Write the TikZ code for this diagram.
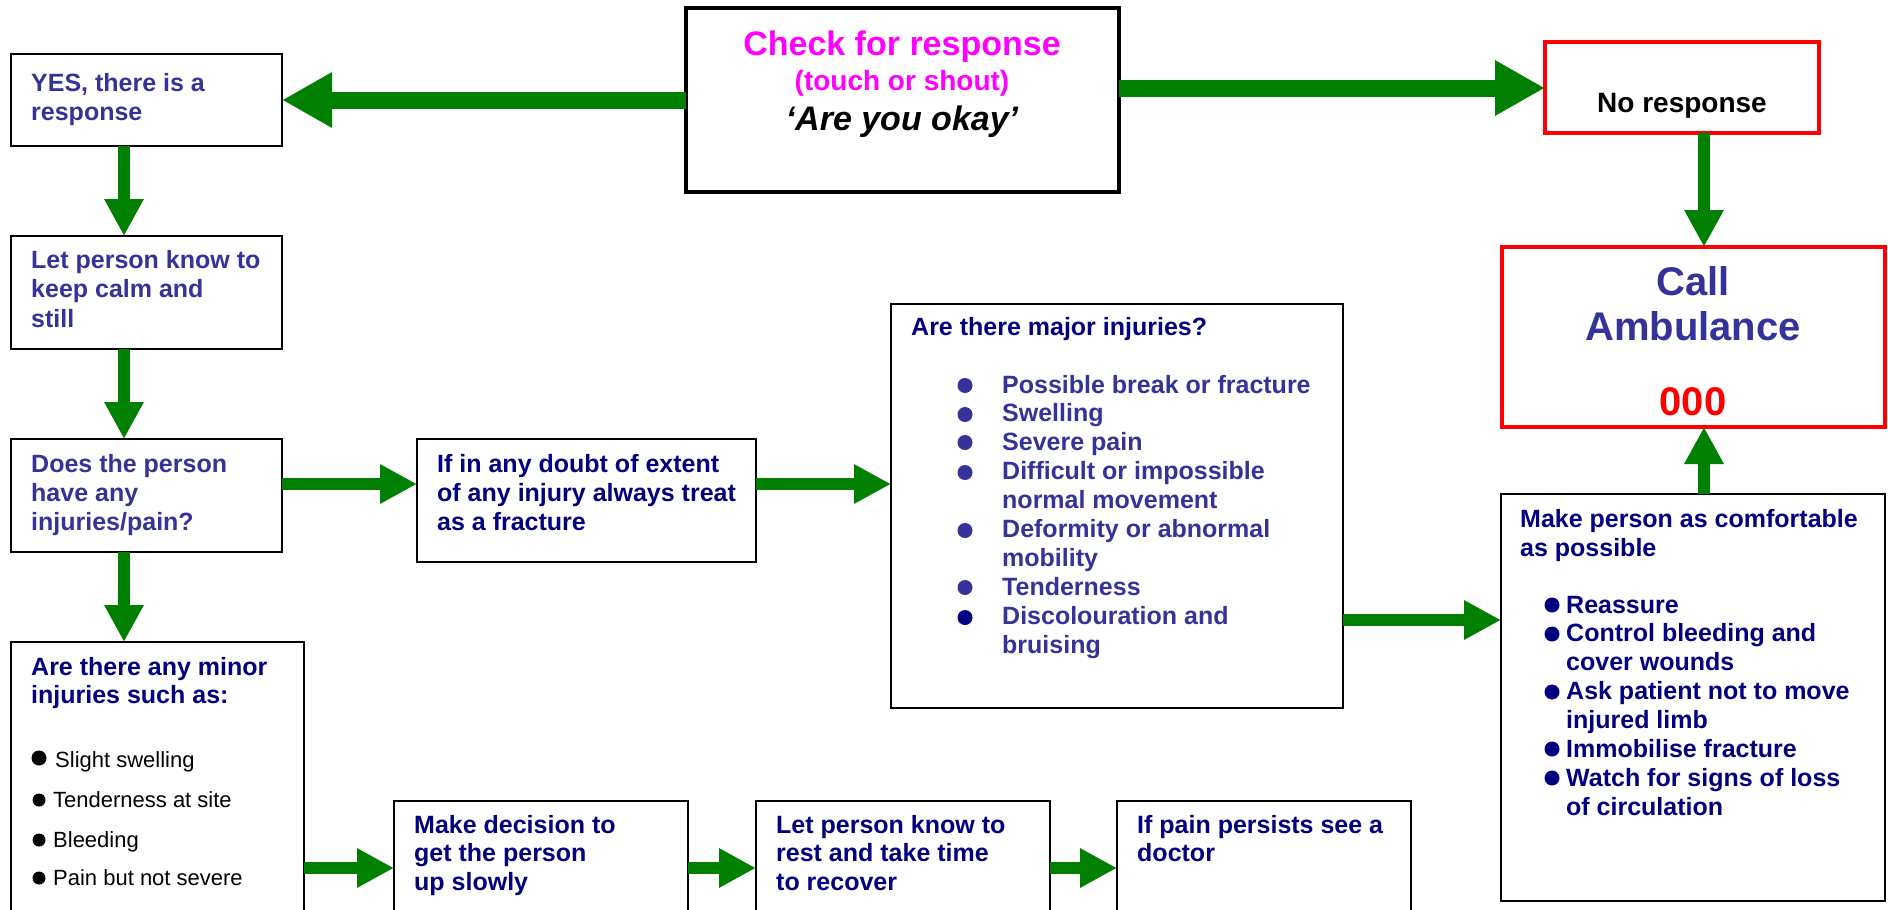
\documentclass[tikz,border=0pt]{standalone}
\usepackage{fontspec}
\setmainfont{Liberation Sans}
\usetikzlibrary{arrows.meta}
\definecolor{bluet}{HTML}{333399}
\definecolor{navyt}{HTML}{000080}
\definecolor{arrowgreen}{HTML}{008000}
\definecolor{magentat}{HTML}{FF00FF}
\definecolor{redb}{HTML}{FF0000}
\tikzset{
  box/.style={draw=black, line width=2pt, fill=white, inner sep=0pt, outer sep=0pt, anchor=north west},
  rbox/.style={box, draw=redb, line width=4pt},
  bigarrow/.style={draw=arrowgreen, line width=17pt, -{Triangle[length=50pt, width=52pt]}},
  medarrow/.style={draw=arrowgreen, line width=12pt, -{Triangle[length=37pt, width=37pt]}},
  body/.style={inner sep=0pt, font=\fontsize{25}{30}\selectfont\bfseries},
  minoritem/.style={inner sep=0pt, font=\fontsize{22}{26}\selectfont, text=black},
}
\newcommand\tlines[6]{% name, style, x, y0, dy, list
  \foreach \lineText [count=\i from 0] in {#6} {
    \node[#2, anchor=base west] (#1-\i) at (#3, #4+\i*#5) {\lineText};
  }
}
\begin{document}
\begin{tikzpicture}[x=1pt,y=-1pt]
\useasboundingbox (0,0) rectangle (1888,910);
\fill[white] (0,0) rectangle (1888,910);

% boxes
\node[box, line width=4.5pt, minimum width=433pt, minimum height=184pt] (check) at (686,8) {};
\node[rbox, minimum width=274pt, minimum height=91pt] (noresp) at (1545,42) {};
\node[rbox, minimum width=383pt, minimum height=180pt] (call) at (1502,247) {};
\node[box, minimum width=271pt, minimum height=92pt] (yes) at (11,54) {};
\node[box, minimum width=271pt, minimum height=113pt] (let) at (11,236) {};
\node[box, minimum width=271pt, minimum height=113pt] (does) at (11,439) {};
\node[box, minimum width=339pt, minimum height=123pt] (doubt) at (417,439) {};
\node[box, minimum width=452pt, minimum height=404pt] (major) at (891,304) {};
\node[box, minimum width=384pt, minimum height=407pt] (make) at (1501,494) {};
\node[box, minimum width=293pt, minimum height=290pt] (minor) at (11,642) {};
\node[box, minimum width=294pt, minimum height=130pt] (dec) at (394,801) {};
\node[box, minimum width=294pt, minimum height=130pt] (rest) at (756,801) {};
\node[box, minimum width=294pt, minimum height=130pt] (pain) at (1117,801) {};

% connector guides
\coordinate (colL) at (124,0);
\coordinate (colR) at (1704,0);
\coordinate (rowT) at (0,88);
\coordinate (rowA) at (0,484);
\coordinate (rowB) at (0,620);
\coordinate (rowC) at (0,868);

% arrows
\draw[bigarrow] (check.west) -- (yes.east);
\draw[bigarrow] (check.east |- rowT) -- (noresp.west |- rowT);
\draw[medarrow] (noresp.south -| colR) -- (call.north -| colR);
\draw[medarrow] (make.north -| colR) -- (call.south -| colR);
\draw[medarrow] (yes.south -| colL) -- (let.north -| colL);
\draw[medarrow] (let.south -| colL) -- (does.north -| colL);
\draw[medarrow] (does.south -| colL) -- (minor.north -| colL);
\draw[medarrow] (does.east |- rowA) -- (doubt.west |- rowA);
\draw[medarrow] (doubt.east |- rowA) -- (major.west |- rowA);
\draw[medarrow] (major.east |- rowB) -- (make.west |- rowB);
\draw[medarrow] (minor.east |- rowC) -- (dec.west |- rowC);
\draw[medarrow] (dec.east |- rowC) -- (rest.west |- rowC);
\draw[medarrow] (rest.east |- rowC) -- (pain.west |- rowC);

% check box text
\node[inner sep=0pt, anchor=base, text=magentat, font=\fontsize{34}{40}\selectfont\bfseries] (chk1) at (902,55) {Check for response};
\node[inner sep=0pt, anchor=base, text=magentat, font=\fontsize{28}{32}\selectfont\bfseries] (chk2) at (902,90) {(touch or shout)};
\node[inner sep=0pt, anchor=base, text=black, font=\fontsize{34}{40}\selectfont\bfseries\itshape] (chk3) at (902,130) {‘Are you okay’};

% no response
\node[inner sep=0pt, anchor=base, text=black, font=\fontsize{28}{32}\selectfont\bfseries] (nr) at (1682,112) {No response};

% call ambulance
\node[inner sep=0pt, anchor=base, text=bluet, font=\fontsize{40}{46}\selectfont\bfseries] (ca1) at (1693,295) {Call};
\node[inner sep=0pt, anchor=base, text=bluet, font=\fontsize{40}{46}\selectfont\bfseries] (ca2) at (1693,340) {Ambulance};
\node[inner sep=0pt, anchor=base, text=redb, font=\fontsize{40}{46}\selectfont\bfseries] (ca3) at (1693,415) {000};

% left column
\tlines{yt}{body, text=bluet}{31}{91}{29}{{YES, there is a},response}
\tlines{lt}{body, text=bluet}{31}{268}{29.5}{Let person know to,keep calm and,still}
\tlines{dt}{body, text=bluet}{31}{472}{29}{Does the person,have any,injuries/pain?}
\tlines{it}{body, text=navyt}{437}{472}{29}{If in any doubt of extent,of any injury always treat,as a fracture}

% major injuries
\node[body, text=navyt, anchor=base west] (mh) at (911,335) {Are there major injuries?};
\tlines{mi}{body, text=bluet}{1002}{393}{28.9}{Possible break or fracture,Swelling,Severe pain,Difficult or impossible,normal movement,Deformity or abnormal,mobility,Tenderness,Discolouration and,bruising}
\foreach \yy in {393,422,450,480,538,595} {\fill[bluet] (965,\yy-7.5) circle (7.5);}
\fill[navyt] (965,625-7.5) circle (7.5);

% make comfortable
\tlines{ch}{body, text=navyt}{1520}{527}{29}{Make person as comfortable,as possible}
\tlines{ci}{body, text=navyt}{1566}{613}{28.9}{Reassure,Control bleeding and,cover wounds,Ask patient not to move,injured limb,Immobilise fracture,Watch for signs of loss,of circulation}
\foreach \yy in {613,642,700,757,786} {\fill[navyt] (1552,\yy-8) circle (7.5);}

% minor injuries
\tlines{nh}{body, text=navyt}{31}{675}{28}{Are there any minor,injuries such as:}
\node[minoritem, anchor=base west] (ni1) at (55,767) {Slight swelling};
\node[minoritem, anchor=base west] (ni2) at (53,807) {Tenderness at site};
\node[minoritem, anchor=base west] (ni3) at (53,847) {Bleeding};
\node[minoritem, anchor=base west] (ni4) at (53,885) {Pain but not severe};
\fill[black] (39,758) circle (7.5);
\fill[black] (39,800) circle (6.5);
\fill[black] (39,840) circle (6.5);
\fill[black] (39,878) circle (6.5);

% bottom row
\tlines{bt1}{body, text=navyt}{414}{833}{28.5}{Make decision to,get the person,up slowly}
\tlines{bt2}{body, text=navyt}{776}{833}{28.5}{Let person know to,rest and take time,to recover}
\tlines{bt3}{body, text=navyt}{1137}{833}{28.5}{If pain persists see a,doctor}
\end{tikzpicture}
\end{document}
